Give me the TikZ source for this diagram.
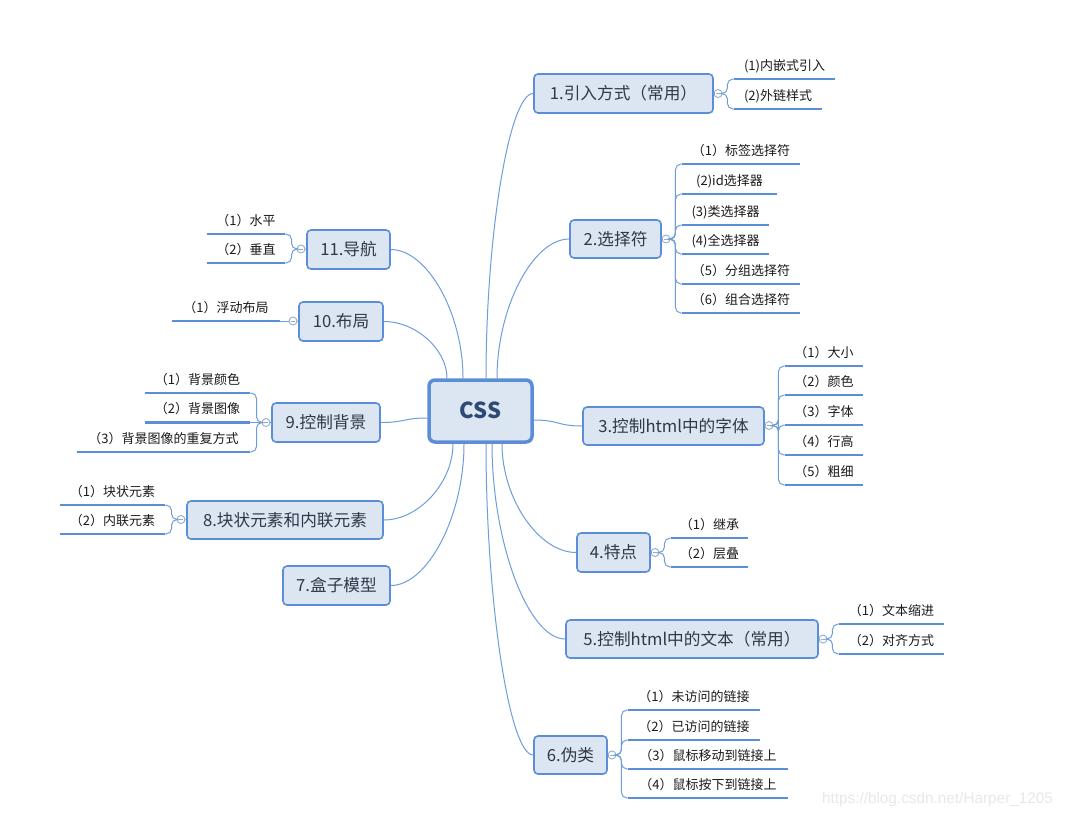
\documentclass[tikz,border=0pt]{standalone}
\usepackage{fontspec}
\setmainfont{Noto Sans CJK SC}
\newfontfamily\wmfont{Liberation Sans}
\newdimen\pxu \pxu=0.75pt
\definecolor{boxfill}{HTML}{DCE6F2}
\definecolor{boxline}{HTML}{5B8ED6}
\definecolor{connc}{HTML}{6E9DDC}
\definecolor{ulinec}{HTML}{5A8ED6}
\definecolor{maintext}{HTML}{303848}
\definecolor{csstext}{HTML}{2D4A75}
\definecolor{circline}{HTML}{93AECF}
\definecolor{leaftext}{HTML}{1A1A1A}
\definecolor{wmcol}{HTML}{E8E8E8}
\newcommand\leafnode[5]{%
  \node[leaf, minimum width=#4\pxu] (#1) at (#2,#3) {#5};
  \draw[uline] (#1.south west) -- (#1.south east);}
\begin{document}
\begin{tikzpicture}[x=0.75pt,y=-0.75pt,
  root/.style={draw=boxline, line width=3.5\pxu, fill=boxfill, rounded corners=6\pxu,
    inner sep=0pt, font=\fontsize{16.5}{18}\selectfont\bfseries, text=csstext,
    text height=11.8pt, text depth=0pt},
  branch/.style={draw=boxline, line width=1.6\pxu, fill=boxfill, rounded corners=4\pxu,
    inner sep=0pt, font=\fontsize{12.5}{14}\selectfont, text=maintext,
    text height=11pt, text depth=1.5pt},
  leaf/.style={anchor=south, inner sep=0pt, font=\fontsize{9.75}{11}\selectfont,
    text=leaftext, text height=8pt, text depth=6.2pt},
  uline/.style={draw=ulinec, line width=2.8\pxu},
  conn/.style={draw=connc, line width=1\pxu},
  brk/.style={draw=connc, line width=1\pxu, rounded corners=5.5\pxu},
  circ/.style={circle, draw=circline, line width=0.9\pxu, fill=white, minimum size=8\pxu,
    inner sep=0pt, path picture={\draw[circline, line width=0.8\pxu]
      ([xshift=-2\pxu]path picture bounding box.center) --
      ([xshift=2\pxu]path picture bounding box.center);}},
  wm/.style={font=\wmfont\fontsize{11.5}{13}\selectfont, text=wmcol, inner sep=0pt}
]
\useasboundingbox[fill=white] (0,0) rectangle (1066,818);

% root
\node[root, minimum width=103\pxu, minimum height=62\pxu] (css) at (480.5,411) {CSS};

% branches
\node[branch, minimum width=179\pxu, minimum height=39\pxu] (n1) at (623.5,93.5) {1.引入方式（常用）};
\node[branch, minimum width=91\pxu, minimum height=38\pxu] (n2) at (615.5,239) {2.选择符};
\node[branch, minimum width=181\pxu, minimum height=38\pxu] (n3) at (673.5,426) {3.控制html中的字体};
\node[branch, minimum width=73\pxu, minimum height=39\pxu] (n4) at (613.5,552.5) {4.特点};
\node[branch, minimum width=252\pxu, minimum height=38\pxu] (n5) at (692,639) {5.控制html中的文本（常用）};
\node[branch, minimum width=73\pxu, minimum height=38\pxu] (n6) at (570.5,755) {6.伪类};
\node[branch, minimum width=107\pxu, minimum height=39\pxu] (n7) at (336.5,585.5) {7.盒子模型};
\node[branch, minimum width=196\pxu, minimum height=38\pxu] (n8) at (285,520) {8.块状元素和内联元素};
\node[branch, minimum width=108\pxu, minimum height=39\pxu] (n9) at (326,422.5) {9.控制背景};
\node[branch, minimum width=84\pxu, minimum height=39\pxu] (n10) at (341,321.5) {10.布局};
\node[branch, minimum width=83\pxu, minimum height=39\pxu] (n11) at (348.5,249.5) {11.导航};

% root connectors
\draw[conn] ([xshift=-33.5\pxu]css.north) .. controls +(0,-29) and +(32,0) .. (n10.east);
\draw[conn] ([xshift=-17.5\pxu]css.north) .. controls +(0,-65) and +(36.5,0) .. (n11.east);
\draw[conn] ([xshift=5.5\pxu]css.north) .. controls +(0,-143) and +(-24,0) .. (n1.west);
\draw[conn] ([xshift=16.5\pxu]css.north) .. controls +(0,-70.5) and +(-36.5,0) .. (n2.west);
\draw[conn] ([yshift=-9\pxu]css.east) .. controls +(25,0) and +(-25,0) .. (n3.west);
\draw[conn] ([yshift=-7\pxu]css.west) .. controls +(-25,0) and +(25,0) .. (n9.east);
\draw[conn] ([xshift=-27.5\pxu]css.south) .. controls +(0,39) and +(35,0) .. (n8.east);
\draw[conn] ([xshift=-16.5\pxu]css.south) .. controls +(0,72) and +(37,0) .. (n7.east);
\draw[conn] ([xshift=5.5\pxu]css.south) .. controls +(0,156.5) and +(-24,0) .. (n6.west);
\draw[conn] ([xshift=11.5\pxu]css.south) .. controls +(0,98.5) and +(-37,0) .. (n5.west);
\draw[conn] ([xshift=21.5\pxu]css.south) .. controls +(0,55) and +(-37.5,0) .. (n4.west);

% collapse circles
\node[circ] (c1) at (718,93.5) {};
\node[circ] (c2) at (666,239) {};
\node[circ] (c3) at (769,425.5) {};
\node[circ] (c4) at (655,552.5) {};
\node[circ] (c5) at (823,639) {};
\node[circ] (c6) at (612,755) {};
\node[circ] (c8) at (181,519.5) {};
\node[circ] (c9) at (266,422.5) {};
\node[circ] (c10) at (293,321) {};
\node[circ] (c11) at (301,249) {};
\foreach \k in {1,2,3,4,5,6}{\draw[conn] (n\k.east) -- (c\k.west);}
\foreach \k in {8,9,10,11}{\draw[conn] (n\k.west) -- (c\k.east);}

% branch 1
\leafnode{L1-1}{784.5}{79}{101}{(1)内嵌式引入}
\leafnode{L1-2}{778}{109}{88}{(2)外链样式}
\foreach \i in {1,2}{\draw[brk] (c1.east) -- ++(5,0) |- (L1-\i.south west);}

% branch 2
\leafnode{L2-1}{741}{164}{118}{（1）标签选择符}
\leafnode{L2-2}{729.5}{194}{95}{(2)id选择器}
\leafnode{L2-3}{725.5}{225}{87}{(3)类选择器}
\leafnode{L2-4}{725.5}{254}{87}{(4)全选择器}
\leafnode{L2-5}{741}{284}{118}{（5）分组选择符}
\leafnode{L2-6}{741}{313}{118}{（6）组合选择符}
\foreach \i in {1,...,6}{\draw[brk] (c2.east) -- ++(5,0) |- (L2-\i.south west);}

% branch 3
\leafnode{L3-1}{824}{366}{78}{（1）大小}
\leafnode{L3-2}{824}{395}{78}{（2）颜色}
\leafnode{L3-3}{824}{425}{78}{（3）字体}
\leafnode{L3-4}{824}{455}{78}{（4）行高}
\leafnode{L3-5}{824}{485}{78}{（5）粗细}
\foreach \i in {1,...,5}{\draw[brk] (c3.east) -- ++(5,0) |- (L3-\i.south west);}

% branch 4
\leafnode{L4-1}{709.5}{538}{77}{（1）继承}
\leafnode{L4-2}{709.5}{567}{77}{（2）层叠}
\foreach \i in {1,2}{\draw[brk] (c4.east) -- ++(5,0) |- (L4-\i.south west);}

% branch 5
\leafnode{L5-1}{891.5}{624}{105}{（1）文本缩进}
\leafnode{L5-2}{891.5}{654}{105}{（2）对齐方式}
\foreach \i in {1,2}{\draw[brk] (c5.east) -- ++(5,0) |- (L5-\i.south west);}

% branch 6
\leafnode{L6-1}{694}{710}{132}{（1）未访问的链接}
\leafnode{L6-2}{694}{740}{132}{（2）已访问的链接}
\leafnode{L6-3}{708}{769}{160}{（3）鼠标移动到链接上}
\leafnode{L6-4}{708}{798}{160}{（4）鼠标按下到链接上}
\foreach \i in {1,...,4}{\draw[brk] (c6.east) -- ++(5,0) |- (L6-\i.south west);}

% branch 8
\leafnode{L8-1}{112.5}{505}{105}{（1）块状元素}
\leafnode{L8-2}{112.5}{534}{105}{（2）内联元素}
\foreach \i in {1,2}{\draw[brk] (c8.west) -- ++(-5,0) |- (L8-\i.south east);}

% branch 9
\leafnode{L9-1}{197.5}{393}{105}{（1）背景颜色}
\leafnode{L9-2}{197.5}{422.5}{105}{（2）背景图像}
\leafnode{L9-3}{163.5}{452}{173}{（3）背景图像的重复方式}
\foreach \i in {1,3}{\draw[brk] (c9.west) -- ++(-5,0) |- (L9-\i.south east);}
\draw[conn] (c9.west) -- (L9-2.south east);

% branch 10
\leafnode{L10-1}{226}{321}{108}{（1）浮动布局}
\draw[conn] (c10.west) -- (L10-1.south east);

% branch 11
\leafnode{L11-1}{246}{234}{78}{（1）水平}
\leafnode{L11-2}{246}{263}{78}{（2）垂直}
\foreach \i in {1,2}{\draw[brk] (c11.west) -- ++(-5,0) |- (L11-\i.south east);}

% watermark
\node[wm] (wm) at (937.5,800) {https://blog.csdn.net/Harper\_1205};
\end{tikzpicture}
\end{document}
